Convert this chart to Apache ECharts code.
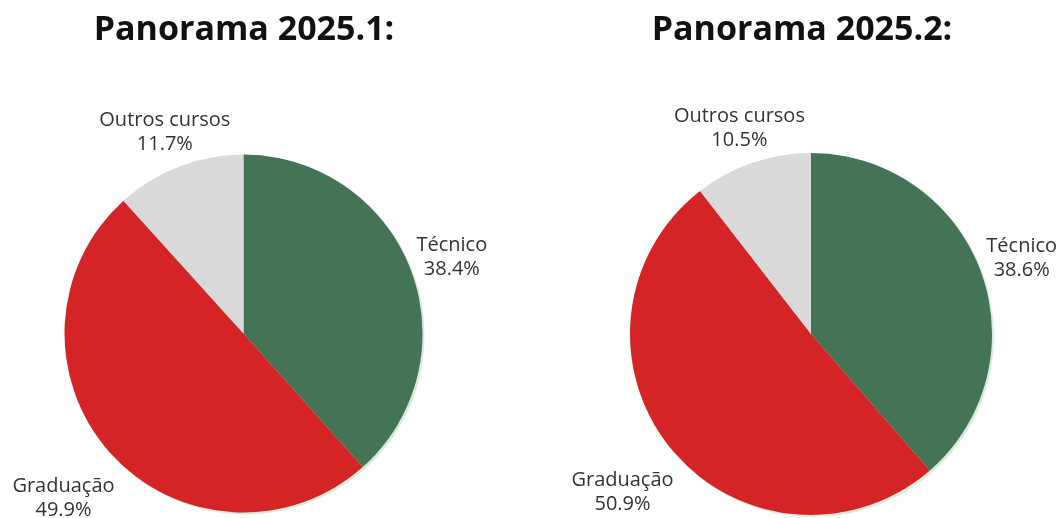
<!DOCTYPE html>
<html><head><meta charset="utf-8">
<script src="https://cdn.jsdelivr.net/npm/echarts@6/dist/echarts.min.js"></script>
<style>html,body{margin:0;padding:0;background:#fff}#c{width:1063px;height:518px}</style>
</head><body><div id="c"></div>
<script>
// ---- data ----
const categories = ['Técnico', 'Graduação', 'Outros cursos'];
const panorama1 = [38.4, 49.9, 11.7];
const panorama2 = [38.6, 50.9, 10.5];
const titles = ['Panorama 2025.1:', 'Panorama 2025.2:'];

// ---- style / layout ----
const colors = ['#457355', '#d42426', '#d9d9d9'];
const layouts = [
  { cx: 243.5, cy: 333.5, r: 179, titleX: 239 },
  { cx: 811, cy: 334, r: 181, titleX: 797 }
];
const labelExtra = { 'Técnico': 0, 'Graduação': 19, 'Outros cursos': -4 }; // radial nudge (px)
const labelDown = 3;
const labelFont = { fontFamily: 'Open Sans', fontSize: 20, lineHeight: 24, color: '#333' };

function buildSeries(values, L) {
  const main = categories.map((c, i) => ({ name: c, value: values[i], itemStyle: { color: colors[i] } }));
  const lbl = categories.map((c, i) => ({ name: c, value: values[i] }));
  return [
    {
      type: 'pie', silent: true, z: 1, radius: L.r, center: [L.cx + 2, L.cy + 2],
      data: [{ value: 1, itemStyle: { color: '#d3ecd9' } }],
      label: { show: false }, labelLine: { show: false }, emphasis: { disabled: true }
    },
    {
      type: 'pie', silent: true, z: 2, radius: L.r, center: [L.cx, L.cy],
      startAngle: 90, clockwise: true, data: main,
      label: { show: false }, labelLine: { show: false }, emphasis: { disabled: true }
    },
    {
      type: 'pie', silent: true, z: 3, radius: [L.r + 31, L.r + 51], center: [L.cx, L.cy],
      startAngle: 90, clockwise: true, data: lbl,
      itemStyle: { color: 'rgba(0,0,0,0)' },
      label: Object.assign({
        show: true, position: 'inside', align: 'center', verticalAlign: 'middle',
        textBorderWidth: 0,
        formatter: p => p.name + '\n' + p.value.toFixed(1) + '%'
      }, labelFont),
      labelLayout: function (p) {
        const rc = p.labelRect;
        const mx = rc.x + rc.width / 2 - L.cx, my = rc.y + rc.height / 2 - L.cy;
        const d = Math.hypot(mx, my) || 1;
        const e = labelExtra[categories[p.dataIndex]] || 0;
        return { dx: mx / d * e, dy: my / d * e + labelDown };
      },
      labelLine: { show: false }, emphasis: { disabled: true }
    }
  ];
}

const chart = echarts.init(document.getElementById('c'), null, { renderer: 'canvas' });
chart.setOption({
  animation: false,
  backgroundColor: '#fff',
  title: titles.map((t, i) => ({
    text: t, left: layouts[i].titleX, top: 8, textAlign: 'center',
    textStyle: { fontFamily: 'Open Sans', fontWeight: 'bold', fontSize: 34, color: '#111' }
  })),
  series: [].concat(buildSeries(panorama1, layouts[0]), buildSeries(panorama2, layouts[1]))
});
</script>
</body></html>
